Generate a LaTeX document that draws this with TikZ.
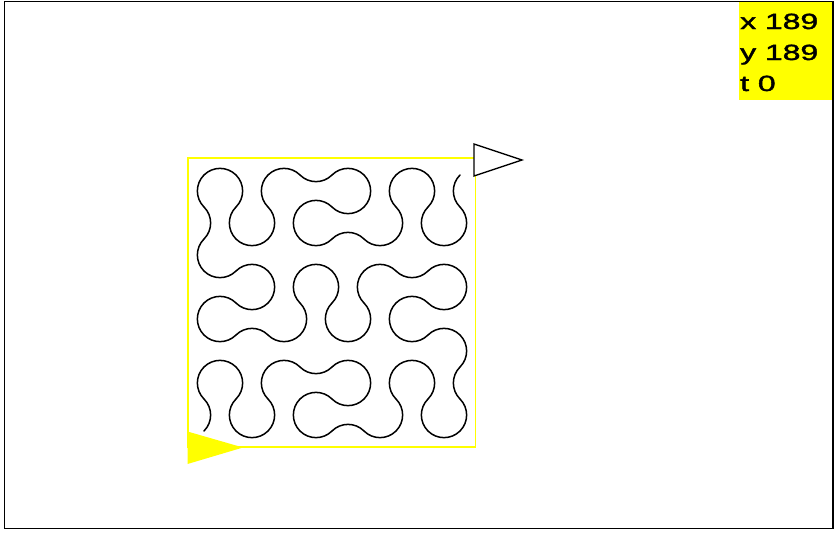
\documentclass[tikz,border=0pt]{standalone}
\usepackage{fontspec}
\usepackage{graphicx}
\newfontfamily\labfont{Liberation Sans}[FakeBold=1.5]
\definecolor{ylw}{RGB}{255,255,0}
\def\R{22.627pt}
% arcs between adjacent cell centres, centred on the grid vertex of odd parity
\def\qaN{arc[start angle=-45,delta angle=90,radius=\R]}
\def\qaS{arc[start angle=135,delta angle=90,radius=\R]}
\def\qaE{arc[start angle=135,delta angle=-90,radius=\R]}
\def\qaW{arc[start angle=-45,delta angle=-90,radius=\R]}
\def\qbN{arc[start angle=225,delta angle=-90,radius=\R]}
\def\qbS{arc[start angle=45,delta angle=-90,radius=\R]}
\def\qbE{arc[start angle=225,delta angle=90,radius=\R]}
\def\qbW{arc[start angle=45,delta angle=90,radius=\R]}
\tikzset{
  frame/.style={draw=black,line width=1.9pt},
  curve/.style={draw=black,line width=1.5pt,line join=round,line cap=round},
  area/.style={draw=ylw,line width=1.5pt},
  status/.style={anchor=base west,inner sep=0pt,font=\labfont\fontsize{22}{22}\selectfont},
}
\begin{document}
\begin{tikzpicture}[x=1pt,y=-1pt]
\useasboundingbox (0,0) rectangle (840,533);
% status box
\fill[ylw] (739,2) rectangle (833,100);
\node[status] (sx) at (740,29) {\scalebox{1.45}[1]{x 189}};
\node[status] (sy) at (740,60) {\scalebox{1.45}[1]{y 189}};
\node[status] (st) at (740,91) {\scalebox{1.45}[1]{t 0}};
% outer frame
\draw[frame] (4.5,1.5) rectangle (833,528.5);
% yellow square
\draw[area] (188,158) rectangle (475.5,447);
% curve
\coordinate (c0) at (204,431);
\draw[curve] (c0)
 \qaN \qbN \qaE \qbS \qaS \qbE \qaN \qbN
 \qaE
 \qbE \qaE \qbS \qaW \qbW \qaS \qbE \qaE
 \qbE
 \qaN \qbN \qaE \qbS \qaS \qbE \qaN \qbN
 \qaN
 \qbW \qaW \qbN \qaE \qbE \qaN \qbW \qaW
 \qbW
 \qaS \qbS \qaW \qbN \qaN \qbW \qaS \qbS
 \qaW
 \qbW \qaW \qbN \qaE \qbE \qaN \qbW \qaW
 \qbN
 \qaN \qbN \qaE \qbS \qaS \qbE \qaN \qbN
 \qaE
 \qbE \qaE \qbS \qaW \qbW \qaS \qbE \qaE
 \qbE
 \qaN \qbN \qaE \qbS \qaS \qbE \qaN \qbN;
% turtles
\fill[ylw] (187.5,431.5) -- (243,447.5) -- (187.5,464) -- cycle;
\draw[fill=white,draw=black,line width=1.3pt,line join=miter] (474,144) -- (522,160) -- (474,176) -- cycle;
\end{tikzpicture}
\end{document}
